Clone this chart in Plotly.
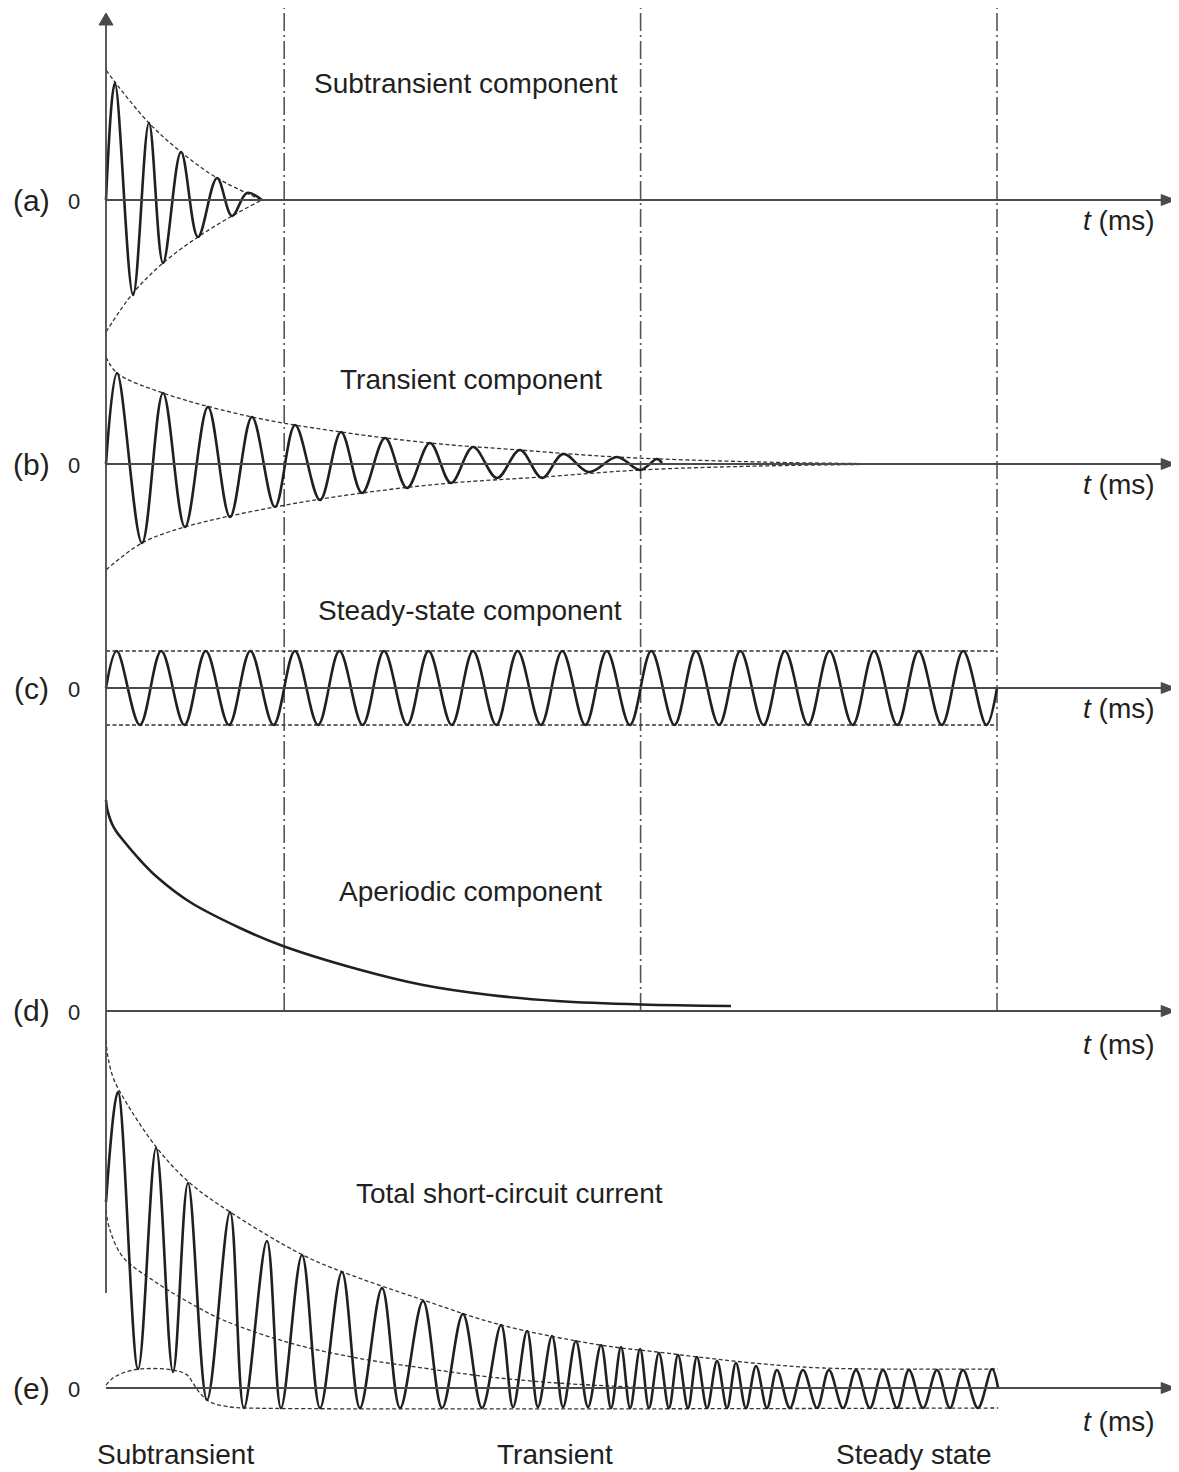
import plotly.graph_objects as go

# ---------------- data (schematic values) ----------------
# time in ms (schematic), current in arbitrary units
phase_bounds_ms = [100, 300, 500]
phase_labels = ["Subtransient", "Transient", "Steady state"]
panel_labels = ["(a)", "(b)", "(c)", "(d)", "(e)"]
panel_titles = ["Subtransient component", "Transient component",
                "Steady-state component", "Aperiodic component",
                "Total short-circuit current"]
t_axis_tip_ms = 600

# (a) subtransient component
a_peak_t = [5.0, 24.1, 42.1, 62.3, 79.1]
a_peak_i = [1.17, 0.77, 0.48, 0.22, 0.07]
a_trough_t = [15.2, 32.0, 51.6, 70.7]
a_trough_i = [-0.95, -0.63, -0.37, -0.16]
a_edge_t = [0, 87.5]
a_edge_i = [0, 0]
a_env_up_t = [0, 5.0, 24.1, 42.1, 62.3, 87.5]
a_env_up_i = [1.30, 1.18, 0.77, 0.48, 0.22, 0.0]
a_env_lo_t = [0, 15.2, 32.0, 51.6, 70.7, 87.5]
a_env_lo_i = [-1.32, -0.93, -0.63, -0.37, -0.16, 0.0]

# (b) transient component
b_peak_t = [6.2, 32.0, 57.2, 81.9, 106.1, 131.9, 156.6, 181.8, 206.0, 232.3, 256.5, 286.8, 309.2]
b_peak_i = [0.91, 0.71, 0.57, 0.47, 0.39, 0.32, 0.26, 0.21, 0.17, 0.14, 0.10, 0.07, 0.05]
b_trough_t = [20.2, 44.3, 69.6, 94.8, 120.1, 143.7, 168.9, 193.6, 219.4, 244.7, 271.0, 299.7]
b_trough_i = [-0.79, -0.63, -0.53, -0.43, -0.36, -0.29, -0.24, -0.19, -0.14, -0.14, -0.08, -0.06]
b_edge_t = [0, 312.0]
b_edge_i = [0, 0.01]
b_env_up_t = [0, 6.2, 32.0, 81.9, 131.9, 181.8, 232.3, 286.8, 367, 450]
b_env_up_i = [1.07, 0.91, 0.71, 0.47, 0.32, 0.21, 0.14, 0.07, 0.02, 0.0]
b_env_lo_t = [0, 20.2, 44.3, 94.8, 143.7, 193.6, 244.7, 299.7, 367, 450]
b_env_lo_i = [-1.06, -0.79, -0.63, -0.43, -0.29, -0.19, -0.13, -0.06, -0.02, 0.0]

# (c) steady-state component
c_peak_t = [6, 31, 56, 81, 106, 131, 156, 181, 206, 231, 256, 281, 306, 331, 356, 381, 406, 431, 456, 481]
c_peak_i = [0.37, 0.37, 0.37, 0.37, 0.37, 0.37, 0.37, 0.37, 0.37, 0.37,
            0.37, 0.37, 0.37, 0.37, 0.37, 0.37, 0.37, 0.37, 0.37, 0.37]
c_trough_t = [19, 44, 69, 94, 119, 144, 169, 194, 219, 244, 269, 294, 319, 344, 369, 394, 419, 444, 469, 494]
c_trough_i = [-0.37, -0.37, -0.37, -0.37, -0.37, -0.37, -0.37, -0.37, -0.37, -0.37,
              -0.37, -0.37, -0.37, -0.37, -0.37, -0.37, -0.37, -0.37, -0.37, -0.37]
c_edge_t = [0, 500]
c_edge_i = [0, 0]
c_level_t = [0, 500]
c_level_up = [0.37, 0.37]
c_level_lo = [-0.37, -0.37]

# (d) aperiodic component
d_t = [0, 0.56, 1.7, 3.4, 5.6, 9.5, 19.1, 28.6, 47.1, 75.2, 99.3, 140.9, 177.9, 215.5, 253.1, 300.2, 350.7]
d_i = [2.11, 2.03, 1.95, 1.87, 1.80, 1.71, 1.51, 1.34, 1.09, 0.83, 0.65, 0.42, 0.26, 0.16, 0.10, 0.065, 0.05]

# (e) total short-circuit current
e_peak_t = [6.7, 28.1, 46.0, 69.6, 90.3, 110.0, 132.4, 154.9, 177.9, 200.3, 221.7, 236.3, 250.3,
            263.7, 277.8, 289.0, 299.7, 310.3, 321.0, 331.6, 342.9, 353.5, 364.8, 376.5, 391.1,
            405.7, 420.9, 436.0, 450.6, 466.3, 480.9, 497.2]
e_peak_i = [2.96, 2.40, 2.05, 1.76, 1.47, 1.33, 1.16, 1.00, 0.87, 0.74, 0.63, 0.57, 0.52,
            0.47, 0.43, 0.41, 0.39, 0.35, 0.33, 0.31, 0.27, 0.25, 0.22, 0.18, 0.18,
            0.18, 0.18, 0.18, 0.18, 0.18, 0.18, 0.19]
e_trough_t = [18.0, 37.6, 56.7, 77.4, 98.2, 120.1, 142.5, 165.0, 188.6, 211.0, 228.4, 242.4, 256.5,
              270.5, 283.4, 294.1, 304.7, 315.9, 326.6, 337.3, 348.5, 359.1, 370.9, 383.8, 399.0,
              413.6, 428.7, 443.9, 458.5, 473.6, 489.3]
e_trough_i = [0.19, 0.16, -0.12, -0.20, -0.20, -0.20, -0.20, -0.20, -0.20, -0.20, -0.19, -0.19, -0.19,
              -0.19, -0.20, -0.20, -0.20, -0.20, -0.20, -0.20, -0.20, -0.20, -0.20, -0.20, -0.20,
              -0.20, -0.20, -0.20, -0.20, -0.20, -0.20]
e_edge_t = [0, 500.6]
e_edge_i = [1.86, 0.0]
e_env_up_t = [0, 1.1, 3.9, 9.5, 28.6, 47.1, 69.6, 110.4, 132.9, 177.9, 221.7, 277.2, 309.2, 337.3, 363.1, 402.4, 500.6]
e_env_up_i = [3.48, 3.31, 3.11, 2.91, 2.40, 2.05, 1.76, 1.33, 1.16, 0.88, 0.63, 0.43, 0.36, 0.30, 0.25, 0.20, 0.19]
e_dc_t = [0, 2.2, 9.5, 28.6, 47.1, 65.7, 103.3, 140.9, 177.9, 215.5, 253.1, 282.8, 305]
e_dc_i = [1.78, 1.58, 1.31, 1.05, 0.85, 0.68, 0.45, 0.30, 0.20, 0.11, 0.05, 0.02, 0.0]
e_env_lo_t = [0, 3.9, 9.5, 19.1, 37.6, 45.5, 48.8, 52.7, 58.4, 69.6, 79.1, 500.6]
e_env_lo_i = [0.03, 0.10, 0.15, 0.19, 0.18, 0.13, 0.05, -0.05, -0.14, -0.19, -0.20, -0.20]

# ---------------- layout constants ----------------
PAGE_W, PAGE_H = 1179, 1472
OFF = 8                       # default body margin of the html page
WF, HF = PAGE_W - OFF, PAGE_H - OFF
X0_PAGE = 106                 # page x of t = 0
PX_PER_MS = 1.782
PX_PER_UNIT = 100.0
# panel: (axis name, band top, band bottom, zero line) in page pixels
panels = [("y", OFF, 340, 200), ("y2", 340, 580, 464), ("y3", 580, 760, 688),
          ("y4", 760, 1025, 1011), ("y5", 1025, PAGE_H, 1388)]
INK = "#231f20"
AXIS = "#4a4a4a"
FONT = "Liberation Sans, Arial, sans-serif"


def px2paper(px):
    return (px - OFF) / WF


def py2paper(py):
    return 1 - (py - OFF) / HF


def merge(*groups):
    pts = []
    for ts, vs in groups:
        pts.extend(zip(ts, vs))
    pts.sort(key=lambda p: p[0])
    return [p[0] for p in pts], [p[1] for p in pts]


fig = go.Figure()


def curve(t, i, yax, dash=None, width=2.6, color=INK, smooth=1.0):
    fig.add_trace(go.Scatter(
        x=t, y=i, mode="lines", xaxis="x", yaxis=yax,
        line=dict(shape="spline", smoothing=smooth, color=color, width=width, dash=dash),
        hoverinfo="skip", showlegend=False))


ENV = dict(dash="4px,2.5px", width=1.3, color="#333333")

# (a)
ta, ia = merge((a_edge_t, a_edge_i), (a_peak_t, a_peak_i), (a_trough_t, a_trough_i))
curve(a_env_up_t, a_env_up_i, "y", **ENV)
curve(a_env_lo_t, a_env_lo_i, "y", **ENV)
curve(ta, ia, "y")
# (b)
tb, ib = merge((b_edge_t, b_edge_i), (b_peak_t, b_peak_i), (b_trough_t, b_trough_i))
curve(b_env_up_t, b_env_up_i, "y2", **ENV)
curve(b_env_lo_t, b_env_lo_i, "y2", **ENV)
curve(tb, ib, "y2")
# (c)
tc, ic = merge((c_edge_t, c_edge_i), (c_peak_t, c_peak_i), (c_trough_t, c_trough_i))
curve(c_level_t, c_level_up, "y3", **ENV)
curve(c_level_t, c_level_lo, "y3", **ENV)
curve(tc, ic, "y3")
# (d)
curve(d_t, d_i, "y4")
# (e)
te, ie = merge((e_edge_t, e_edge_i), (e_peak_t, e_peak_i), (e_trough_t, e_trough_i))
curve(e_env_up_t, e_env_up_i, "y5", **ENV)
curve(e_dc_t, e_dc_i, "y5", **ENV)
curve(e_env_lo_t, e_env_lo_i, "y5", **ENV)
curve(te, ie, "y5")

x0f = X0_PAGE - OFF
layout = dict(
    width=WF, height=HF, margin=dict(l=0, r=0, t=0, b=0),
    paper_bgcolor="white", plot_bgcolor="white", showlegend=False,
    xaxis=dict(domain=[0, 1], range=[-x0f / PX_PER_MS, (WF - x0f) / PX_PER_MS],
               visible=False, fixedrange=True),
)
for name, top, bot, zero in panels:
    key = "yaxis" if name == "y" else "yaxis" + name[1:]
    layout[key] = dict(domain=[py2paper(bot), py2paper(top)],
                       range=[(zero - bot) / PX_PER_UNIT, (zero - top) / PX_PER_UNIT],
                       visible=False, fixedrange=True, anchor="x")
fig.update_layout(**layout)

# phase boundaries (dash-dot), from the top down to the (d) axis
for tb_ in phase_bounds_ms:
    fig.add_shape(type="line", xref="x", yref="paper", x0=tb_, x1=tb_,
                  y0=py2paper(1011), y1=1, layer="below",
                  line=dict(color="#555555", width=1.6, dash="18px,4px,2px,4px"))

# horizontal time axes with arrowheads (head 14 px long, 11 px wide)
hl_t = 14 / PX_PER_MS
hw_i = 11 / 2 / PX_PER_UNIT
for name, top, bot, zero in panels:
    tip = t_axis_tip_ms
    fig.add_shape(type="line", xref="x", yref=name, x0=0, x1=tip - hl_t * 0.6,
                  y0=0, y1=0, line=dict(color=AXIS, width=2))
    fig.add_shape(type="path", xref="x", yref=name,
                  path=f"M {tip - hl_t} {hw_i} L {tip} 0 L {tip - hl_t} {-hw_i} Z",
                  fillcolor=AXIS, line=dict(color=AXIS, width=1))

# vertical axis (arrow tip at page y = 13, in panel (a) units; head 12 long, 14 wide)
tip_i = (200 - 13) / PX_PER_UNIT
hl_i = 12 / PX_PER_UNIT
hw_t = 14 / 2 / PX_PER_MS
fig.add_shape(type="line", xref="x", yref="paper", x0=0, x1=0,
              y0=py2paper(1293), y1=py2paper(13 + 8),
              line=dict(color=AXIS, width=1.8))
fig.add_shape(type="path", xref="x", yref="y",
              path=f"M {-hw_t} {tip_i - hl_i} L 0 {tip_i} L {hw_t} {tip_i - hl_i} Z",
              fillcolor=AXIS, line=dict(color=AXIS, width=1))

ann = []


def text(s, px, py, size, anchor="center"):
    ann.append(dict(x=px2paper(px), y=py2paper(py), xref="paper", yref="paper", text=s,
                    showarrow=False, xanchor=anchor, yanchor="middle",
                    font=dict(family=FONT, size=size, color=INK)))


title_pos = [(466, 83), (471, 380), (470, 610), (471, 891), (509, 1193)]
for s, (px, py) in zip(panel_titles, title_pos):
    text(s, px, py, 28)
for lab, (name, top, bot, zero) in zip(panel_labels, panels):
    text(lab, 31, zero, 30)
    text("0", 74, zero + 1, 22)
tms_y = [220, 484, 708, 1044, 1421]
for py in tms_y:
    text("<i>t</i> (ms)", 1157, py, 28, anchor="right")
for s, px in zip(phase_labels, [175, 555, 914]):
    text(s, px, 1454, 28)

fig.update_layout(annotations=ann)
fig.write_html("out.html")
